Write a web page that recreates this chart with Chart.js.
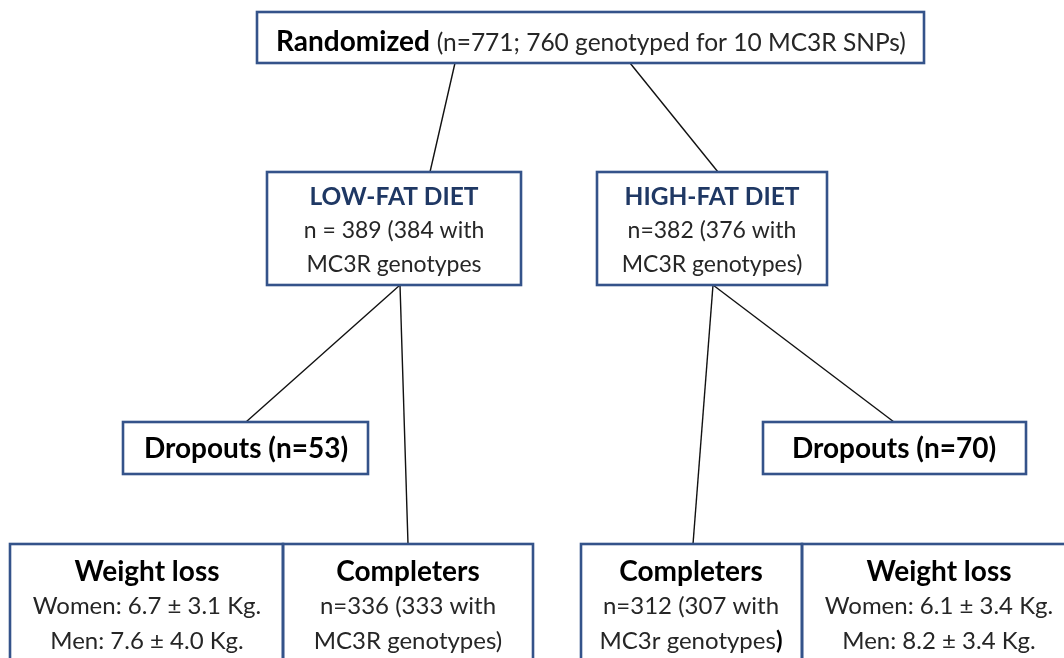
<!DOCTYPE html>
<html>
<head>
<meta charset="utf-8">
<script src="https://cdn.jsdelivr.net/npm/chart.js@4/dist/chart.umd.min.js"></script>
<style>
  html, body { margin: 0; padding: 0; background: #ffffff; }
  #wrap { width: 1064px; height: 658px; position: relative; }
</style>
</head>
<body>
<div id="wrap"><canvas id="c"></canvas></div>
<script>
// ---- content (text of each node) ----
const nodeTitles = ['Randomized', 'LOW-FAT DIET', 'HIGH-FAT DIET', 'Dropouts (n=53)', 'Dropouts (n=70)',
                    'Weight loss', 'Completers', 'Completers', 'Weight loss'];
const nodeDetails = [
  ['(n=771; 760 genotyped for 10 MC3R SNPs)'],
  ['n = 389 (384 with', 'MC3R genotypes'],
  ['n=382 (376 with', 'MC3R genotypes)'],
  [],
  [],
  ['Women: 6.7 ± 3.1 Kg.', 'Men: 7.6 ± 4.0 Kg.'],
  ['n=336 (333 with', 'MC3R genotypes)'],
  ['n=312 (307 with', 'MC3r genotypes)'],
  ['Women: 6.1 ± 3.4 Kg.', 'Men: 8.2 ± 3.4 Kg.']
];
const nodeInline = [true, false, false, false, false, false, false, false, false];
const nodeKind   = ['top', 'diet', 'diet', 'drop', 'drop', 'bottom', 'bottom', 'bottom', 'bottom'];
// last character of the last detail line printed in bold (as in the source figure)
const nodeBoldTail = [false, false, false, false, false, false, false, true, false];

// ---- layout (in diagram units, mapped through the chart scales) ----
const boxLeft   = [257, 267, 597, 123, 763, 10, 283, 581, 802];
const boxRight  = [924, 521, 827, 368, 1026, 283, 533, 802, 1082];
const boxTop    = [12, 172, 172, 422, 422, 544, 544, 544, 544];
const boxBottom = [63, 285, 285, 474, 474, 690, 690, 690, 690];
const textCenterX = [591, 394, 712, 246, 894, 147, 408, 691, 939];

// connectors: start x, start y, end x, end y
const edgeX1 = [455, 630, 400, 400, 713, 713];
const edgeY1 = [63, 63, 285, 285, 285, 285];
const edgeX2 = [430, 718, 246, 408, 693, 894];
const edgeY2 = [172, 172, 422, 544, 544, 422];

const FONT = 'Lato, "Open Sans", sans-serif';
const styleByKind = {
  top:    { titleSize: 28, detailSize: 24.5, first: 26, gap: 0,  titleColor: '#000000' },
  diet:   { titleSize: 24.5, detailSize: 23, first: 25, gap: 34, titleColor: '#1F3864' },
  drop:   { titleSize: 28, detailSize: 24, first: 27, gap: 0,  titleColor: '#000000' },
  bottom: { titleSize: 28, detailSize: 24, first: 28, gap: 34.5, titleColor: '#000000' }
};
const detailColor = '#262626';
const boxColor = '#34538A';

const edgeDatasets = edgeX1.map((x1, i) => ({
  data: [{ x: x1, y: edgeY1[i] }, { x: edgeX2[i], y: edgeY2[i] }],
  showLine: true,
  borderColor: '#111111',
  borderWidth: 1.4,
  pointRadius: 0,
  pointHoverRadius: 0,
  clip: false
}));

const boxPlugin = {
  id: 'flowBoxes',
  afterDatasetsDraw(chart) {
    const ctx = chart.ctx;
    const xs = chart.scales.x, ys = chart.scales.y;
    ctx.save();
    for (let i = 0; i < nodeTitles.length; i++) {
      const l = xs.getPixelForValue(boxLeft[i]);
      const r = xs.getPixelForValue(boxRight[i]);
      const t = ys.getPixelForValue(boxTop[i]);
      const b = ys.getPixelForValue(boxBottom[i]);
      ctx.fillStyle = '#ffffff';
      ctx.fillRect(l, t, r - l, b - t);
    }
    for (let i = 0; i < nodeTitles.length; i++) {
      const l = xs.getPixelForValue(boxLeft[i]);
      const r = xs.getPixelForValue(boxRight[i]);
      const t = ys.getPixelForValue(boxTop[i]);
      const b = ys.getPixelForValue(boxBottom[i]);
      ctx.strokeStyle = boxColor;
      ctx.lineWidth = 2.6;
      ctx.strokeRect(l, t, r - l, b - t);
    }
    ctx.textBaseline = 'middle';
    for (let i = 0; i < nodeTitles.length; i++) {
      const st = styleByKind[nodeKind[i]];
      const t = ys.getPixelForValue(boxTop[i]);
      const cx = xs.getPixelForValue(textCenterX[i]);
      const titleFont = 'bold ' + st.titleSize + 'px ' + FONT;
      const detailFont = st.detailSize + 'px ' + FONT;
      const boldDetailFont = 'bold ' + st.detailSize + 'px ' + FONT;
      if (nodeInline[i]) {
        ctx.font = titleFont;
        const w1 = ctx.measureText(nodeTitles[i] + ' ').width;
        ctx.font = detailFont;
        const w2 = ctx.measureText(nodeDetails[i][0]).width;
        const x0 = cx - (w1 + w2) / 2;
        const y = t + st.first + 4;
        ctx.textAlign = 'left';
        ctx.font = titleFont; ctx.fillStyle = st.titleColor;
        ctx.fillText(nodeTitles[i], x0, y);
        ctx.font = detailFont; ctx.fillStyle = detailColor;
        ctx.fillText(nodeDetails[i][0], x0 + w1, y + 1);
      } else {
        ctx.textAlign = 'center';
        ctx.font = titleFont; ctx.fillStyle = st.titleColor;
        ctx.fillText(nodeTitles[i], cx, t + st.first);
        ctx.fillStyle = detailColor;
        const n = nodeDetails[i].length;
        nodeDetails[i].forEach((line, k) => {
          const y = t + st.first + st.gap * (k + 1);
          if (nodeBoldTail[i] && k === n - 1) {
            const head = line.slice(0, -1), tail = line.slice(-1);
            ctx.font = detailFont;
            const wh = ctx.measureText(head).width;
            ctx.font = boldDetailFont;
            const wt = ctx.measureText(tail).width;
            const x0 = cx - (wh + wt) / 2;
            ctx.textAlign = 'left';
            ctx.font = detailFont;
            ctx.fillText(head, x0, y);
            ctx.font = boldDetailFont;
            ctx.fillStyle = '#000000';
            ctx.fillText(tail, x0 + wh, y);
            ctx.fillStyle = detailColor;
            ctx.textAlign = 'center';
          } else {
            ctx.font = detailFont;
            ctx.fillText(line, cx, y);
          }
        });
      }
    }
    ctx.restore();
  }
};

new Chart(document.getElementById('c'), {
  type: 'scatter',
  data: { datasets: edgeDatasets },
  options: {
    animation: false,
    responsive: true,
    maintainAspectRatio: false,
    layout: { padding: 0 },
    events: [],
    plugins: { legend: { display: false }, tooltip: { enabled: false } },
    scales: {
      x: { type: 'linear', min: 0, max: 1064, display: false },
      y: { type: 'linear', min: 0, max: 658, reverse: true, display: false }
    }
  },
  plugins: [boxPlugin]
});
</script>
</body>
</html>
